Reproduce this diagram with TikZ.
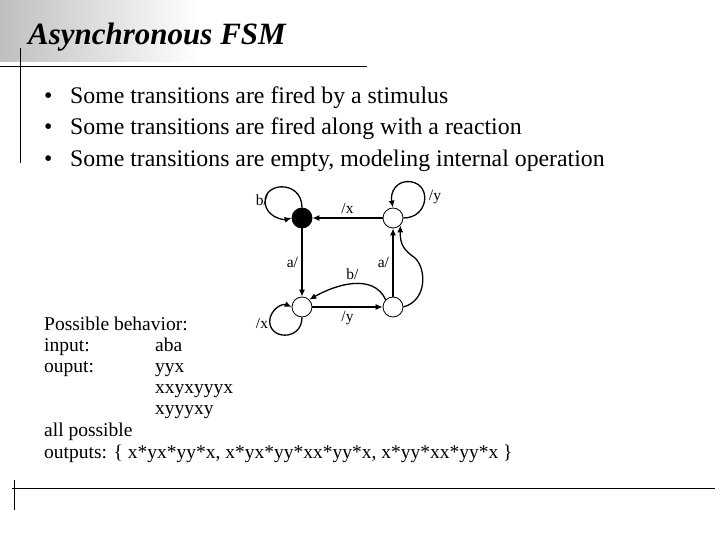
\documentclass[tikz,border=0pt]{standalone}
\usepackage{fontspec}
\setmainfont{Liberation Serif}
\usetikzlibrary{arrows.meta}
\begin{document}
\begin{tikzpicture}[x=1pt,y=-1pt,
  st/.style={circle,draw,line width=0.8pt,minimum size=20pt,inner sep=0pt},
  tr/.style={-{Latex[length=7pt,width=6pt]},line width=1.3pt},
  lb/.style={font=\fontsize{15.5}{15}\selectfont},
  txt/.style={anchor=base west,inner sep=0pt,font=\fontsize{23.8}{24}\selectfont},
  sm/.style={anchor=base west,inner sep=0pt,font=\fontsize{19.5}{20}\selectfont}]
\useasboundingbox (0,0) rectangle (720,540);
\shade[left color=black!25,right color=white] (0,0) rectangle (200,62);
\node[anchor=base west,inner sep=0pt,font=\fontsize{31}{31}\selectfont\bfseries\itshape] (title) at (28,45) {Asynchronous FSM};
\draw[line width=0.8pt] (0,66) -- (367,66);
\draw[line width=0.8pt] (20,48) -- (20,163);
\draw[line width=0.8pt] (12,488) -- (715,488);
\draw[line width=0.8pt] (14,480) -- (14,510);
\foreach \y/\t [count=\i] in {104/Some transitions are fired by a stimulus,135/Some transitions are fired along with a reaction,167/Some transitions are empty{,} modeling internal operation}{
  \node[txt] (bul\i) at (44,\y) {\textbullet};
  \node[txt] (b\i) at (70,\y) {\t};
}
\node[st,fill=black] (A) at (302,218) {};
\node[st] (B) at (393,218) {};
\node[st] (C) at (302,307) {};
\node[st] (D) at (393,307) {};
\draw[tr] (B) -- node[lb,above]{/x} (A);
\draw[tr] (A) -- node[lb,left]{a/} (C);
\draw[tr] (C) -- node[lb,below]{/y} (D);
\draw[tr] (D) -- node[lb,left]{a/} (B);
\draw[tr] (D.north west) to[out=115,in=30] node[lb,above]{b/} (C.north east);
\draw[tr] (D.east) .. controls (428,300) and (426,268) .. (415,258) .. controls (404,250) and (400,245) .. (B.south east);
\draw[tr] (A.north) .. controls (302,178) and (258,182) .. (266,207) .. controls (270,218) and (284,220) .. (A.west);
\node[lb] (lA) at (262,200) {b/};
\draw[tr] (B.east) .. controls (428,218) and (432,186) .. (412,182) .. controls (396,179) and (390,193) .. (B.north);
\node[lb] (lB) at (435,197) {/y};
\draw[tr] (C.south) .. controls (302,342) and (266,340) .. (270,318) .. controls (274,305) and (285,304) .. (C.west);
\node[lb] (lC) at (262,323) {/x};
\node[sm] (p1) at (44,330) {Possible behavior:};
\node[sm] (p2) at (44,351) {input:};
\node[sm] (p3) at (155,351) {aba};
\node[sm] (p4) at (44,372) {ouput:};
\node[sm] (p5) at (155,372) {yyx};
\node[sm] (p6) at (155,393) {xxyxyyyx};
\node[sm] (p7) at (155,414) {xyyyxy};
\node[sm] (p8) at (44,436) {all possible};
\node[sm] (p9) at (44,458) {outputs: \{ x*yx*yy*x, x*yx*yy*xx*yy*x, x*yy*xx*yy*x \}};
\end{tikzpicture}
\end{document}
